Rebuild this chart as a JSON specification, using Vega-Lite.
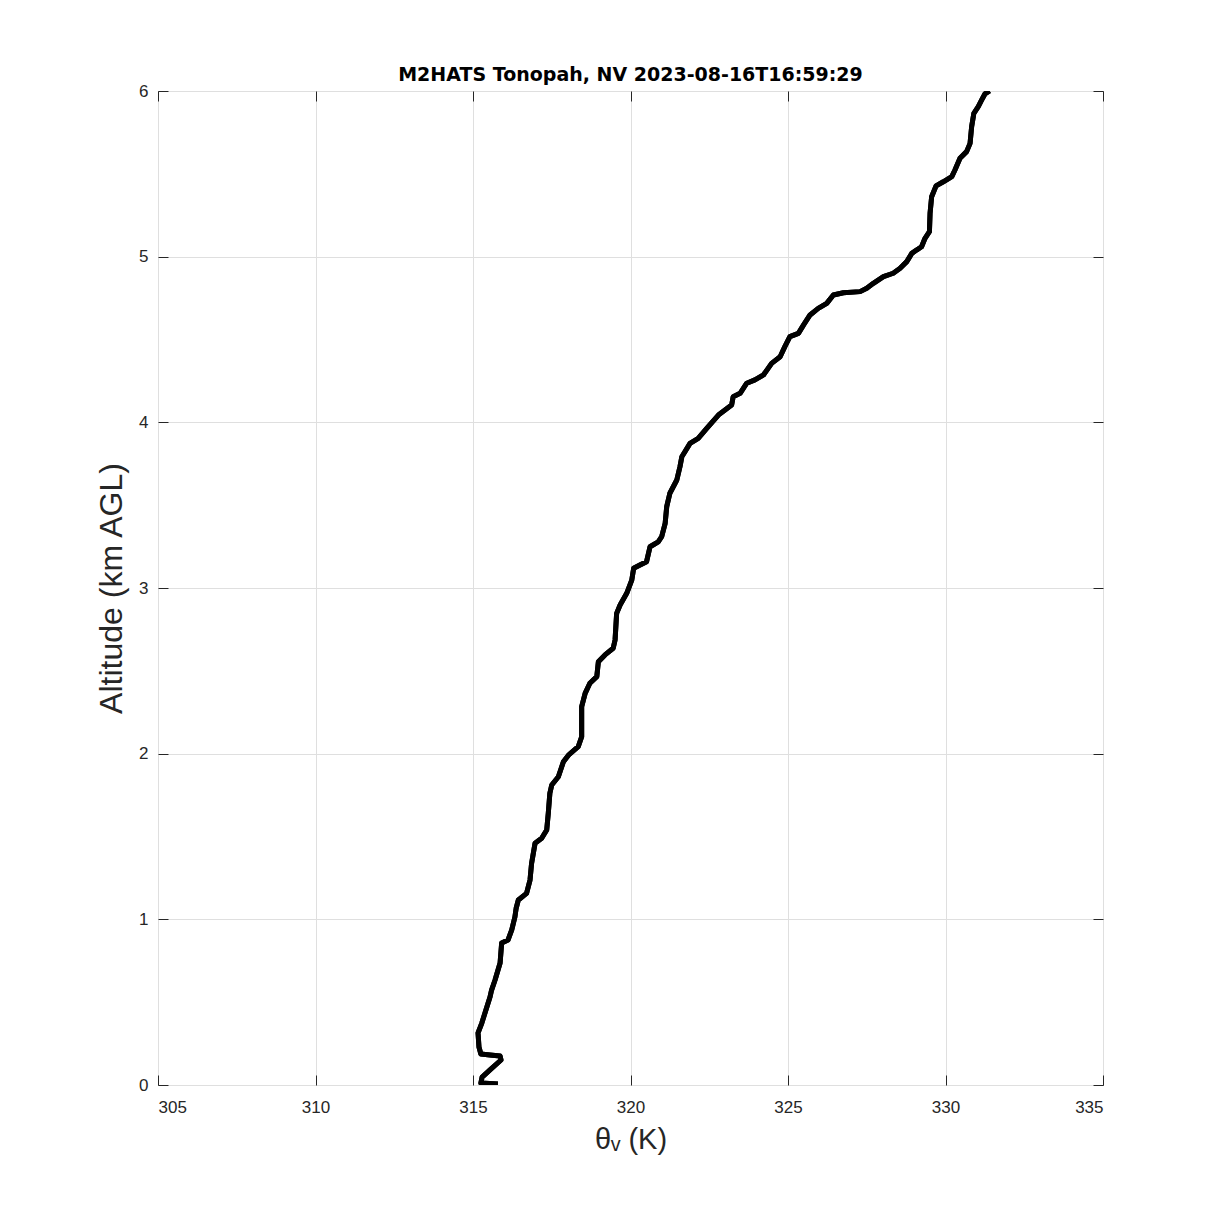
{
  "$schema": "https://vega.github.io/schema/vega-lite/v6.json",
  "autosize": {"type": "none"},
  "width": 945,
  "height": 994,
  "padding": {"left": 158, "top": 91, "right": 116, "bottom": 134},
  "background": "white",
  "title": {
    "text": "M2HATS Tonopah, NV 2023-08-16T16:59:29",
    "font": "DejaVu Sans",
    "fontSize": 19,
    "fontWeight": "bold",
    "color": "#000000",
    "offset": -3,
    "anchor": "middle"
  },
  "config": {
    "view": {"stroke": "#262626", "strokeWidth": 1},
    "axis": {
      "labelFont": "Liberation Sans",
      "labelFontSize": 17,
      "labelColor": "#262626",
      "titleFont": "Liberation Sans",
      "titleColor": "#262626",
      "titleFontWeight": "normal",
      "domain": false,
      "tickColor": "#262626",
      "tickSize": -10,
      "gridColor": "#dfdfdf",
      "gridWidth": 1
    }
  },
  "data": {
    "values": [
      {"i": 0, "theta": 315.79, "alt": 0.006},
      {"i": 1, "theta": 315.25, "alt": 0.012},
      {"i": 2, "theta": 315.29, "alt": 0.048},
      {"i": 3, "theta": 315.54, "alt": 0.091},
      {"i": 4, "theta": 315.89, "alt": 0.151},
      {"i": 5, "theta": 315.86, "alt": 0.175},
      {"i": 6, "theta": 315.54, "alt": 0.181},
      {"i": 7, "theta": 315.25, "alt": 0.187},
      {"i": 8, "theta": 315.19, "alt": 0.229},
      {"i": 9, "theta": 315.16, "alt": 0.314},
      {"i": 10, "theta": 315.28, "alt": 0.374},
      {"i": 11, "theta": 315.38, "alt": 0.435},
      {"i": 12, "theta": 315.54, "alt": 0.531},
      {"i": 13, "theta": 315.59, "alt": 0.573},
      {"i": 14, "theta": 315.70, "alt": 0.634},
      {"i": 15, "theta": 315.86, "alt": 0.736},
      {"i": 16, "theta": 315.91, "alt": 0.857},
      {"i": 17, "theta": 316.11, "alt": 0.875},
      {"i": 18, "theta": 316.23, "alt": 0.936},
      {"i": 19, "theta": 316.33, "alt": 1.014},
      {"i": 20, "theta": 316.37, "alt": 1.067},
      {"i": 21, "theta": 316.44, "alt": 1.117},
      {"i": 22, "theta": 316.70, "alt": 1.157},
      {"i": 23, "theta": 316.81, "alt": 1.237},
      {"i": 24, "theta": 316.86, "alt": 1.338},
      {"i": 25, "theta": 316.97, "alt": 1.459},
      {"i": 26, "theta": 317.18, "alt": 1.489},
      {"i": 27, "theta": 317.34, "alt": 1.539},
      {"i": 28, "theta": 317.39, "alt": 1.640},
      {"i": 29, "theta": 317.44, "alt": 1.761},
      {"i": 30, "theta": 317.50, "alt": 1.811},
      {"i": 31, "theta": 317.71, "alt": 1.861},
      {"i": 32, "theta": 317.87, "alt": 1.951},
      {"i": 33, "theta": 318.03, "alt": 1.991},
      {"i": 34, "theta": 318.34, "alt": 2.042},
      {"i": 35, "theta": 318.45, "alt": 2.102},
      {"i": 36, "theta": 318.45, "alt": 2.284},
      {"i": 37, "theta": 318.56, "alt": 2.364},
      {"i": 38, "theta": 318.71, "alt": 2.425},
      {"i": 39, "theta": 318.93, "alt": 2.465},
      {"i": 40, "theta": 318.98, "alt": 2.555},
      {"i": 41, "theta": 319.19, "alt": 2.596},
      {"i": 42, "theta": 319.45, "alt": 2.636},
      {"i": 43, "theta": 319.51, "alt": 2.686},
      {"i": 44, "theta": 319.56, "alt": 2.847},
      {"i": 45, "theta": 319.67, "alt": 2.897},
      {"i": 46, "theta": 319.88, "alt": 2.968},
      {"i": 47, "theta": 320.04, "alt": 3.048},
      {"i": 48, "theta": 320.10, "alt": 3.119},
      {"i": 49, "theta": 320.30, "alt": 3.139},
      {"i": 50, "theta": 320.51, "alt": 3.159},
      {"i": 51, "theta": 320.62, "alt": 3.249},
      {"i": 52, "theta": 320.88, "alt": 3.279},
      {"i": 53, "theta": 320.99, "alt": 3.310},
      {"i": 54, "theta": 321.10, "alt": 3.390},
      {"i": 55, "theta": 321.15, "alt": 3.491},
      {"i": 56, "theta": 321.25, "alt": 3.572},
      {"i": 57, "theta": 321.47, "alt": 3.652},
      {"i": 58, "theta": 321.57, "alt": 3.732},
      {"i": 59, "theta": 321.63, "alt": 3.792},
      {"i": 60, "theta": 321.89, "alt": 3.873},
      {"i": 61, "theta": 322.15, "alt": 3.903},
      {"i": 62, "theta": 322.42, "alt": 3.964},
      {"i": 63, "theta": 322.79, "alt": 4.044},
      {"i": 64, "theta": 323.00, "alt": 4.074},
      {"i": 65, "theta": 323.21, "alt": 4.104},
      {"i": 66, "theta": 323.26, "alt": 4.155},
      {"i": 67, "theta": 323.48, "alt": 4.175},
      {"i": 68, "theta": 323.69, "alt": 4.236},
      {"i": 69, "theta": 323.95, "alt": 4.256},
      {"i": 70, "theta": 324.22, "alt": 4.286},
      {"i": 71, "theta": 324.48, "alt": 4.356},
      {"i": 72, "theta": 324.75, "alt": 4.396},
      {"i": 73, "theta": 324.90, "alt": 4.457},
      {"i": 74, "theta": 325.06, "alt": 4.517},
      {"i": 75, "theta": 325.33, "alt": 4.537},
      {"i": 76, "theta": 325.49, "alt": 4.587},
      {"i": 77, "theta": 325.70, "alt": 4.648},
      {"i": 78, "theta": 325.96, "alt": 4.688},
      {"i": 79, "theta": 326.23, "alt": 4.718},
      {"i": 80, "theta": 326.44, "alt": 4.769},
      {"i": 81, "theta": 326.76, "alt": 4.782},
      {"i": 82, "theta": 327.29, "alt": 4.789},
      {"i": 83, "theta": 327.50, "alt": 4.809},
      {"i": 84, "theta": 327.71, "alt": 4.839},
      {"i": 85, "theta": 328.03, "alt": 4.879},
      {"i": 86, "theta": 328.34, "alt": 4.900},
      {"i": 87, "theta": 328.56, "alt": 4.930},
      {"i": 88, "theta": 328.77, "alt": 4.970},
      {"i": 89, "theta": 328.93, "alt": 5.020},
      {"i": 90, "theta": 329.08, "alt": 5.040},
      {"i": 91, "theta": 329.24, "alt": 5.060},
      {"i": 92, "theta": 329.35, "alt": 5.111},
      {"i": 93, "theta": 329.49, "alt": 5.151},
      {"i": 94, "theta": 329.51, "alt": 5.262},
      {"i": 95, "theta": 329.56, "alt": 5.362},
      {"i": 96, "theta": 329.70, "alt": 5.427},
      {"i": 97, "theta": 329.93, "alt": 5.452},
      {"i": 98, "theta": 330.20, "alt": 5.483},
      {"i": 99, "theta": 330.30, "alt": 5.523},
      {"i": 100, "theta": 330.46, "alt": 5.594},
      {"i": 101, "theta": 330.67, "alt": 5.634},
      {"i": 102, "theta": 330.78, "alt": 5.684},
      {"i": 103, "theta": 330.83, "alt": 5.785},
      {"i": 104, "theta": 330.90, "alt": 5.865},
      {"i": 105, "theta": 331.04, "alt": 5.905},
      {"i": 106, "theta": 331.15, "alt": 5.946},
      {"i": 107, "theta": 331.25, "alt": 5.982},
      {"i": 108, "theta": 331.40, "alt": 6.000}
    ]
  },
  "resolve": {"axis": {"x": "independent", "y": "independent"}},
  "layer": [
    {
      "mark": {"type": "line", "color": "#000000", "strokeWidth": 5, "strokeJoin": "round", "strokeCap": "butt", "clip": true},
      "encoding": {
        "x": {
          "field": "theta", "type": "quantitative",
          "scale": {"domain": [305, 335], "nice": false, "zero": false},
          "axis": {"values": [305, 310, 315, 320, 325, 330, 335], "title": "θᵥ (K)", "titleFontSize": 29, "titlePadding": 10, "labelPadding": 24, "grid": true}
        },
        "y": {
          "field": "alt", "type": "quantitative",
          "scale": {"domain": [0, 6], "nice": false, "zero": false},
          "axis": {"values": [0, 1, 2, 3, 4, 5, 6], "title": "Altitude (km AGL)", "titleFontSize": 32, "titlePadding": 10, "labelPadding": 20, "grid": true}
        },
        "order": {"field": "i", "type": "quantitative"}
      }
    },
    {
      "mark": {"type": "line", "color": "#000000", "strokeWidth": 5, "strokeJoin": "round", "clip": true},
      "encoding": {
        "x": {
          "field": "theta", "type": "quantitative",
          "scale": {"domain": [305, 335], "nice": false, "zero": false},
          "axis": {"orient": "top", "values": [305, 310, 315, 320, 325, 330, 335], "labels": false, "title": null, "grid": false}
        },
        "y": {
          "field": "alt", "type": "quantitative",
          "scale": {"domain": [0, 6], "nice": false, "zero": false},
          "axis": {"orient": "right", "values": [0, 1, 2, 3, 4, 5, 6], "labels": false, "title": null, "grid": false}
        },
        "order": {"field": "i", "type": "quantitative"}
      }
    }
  ]
}
